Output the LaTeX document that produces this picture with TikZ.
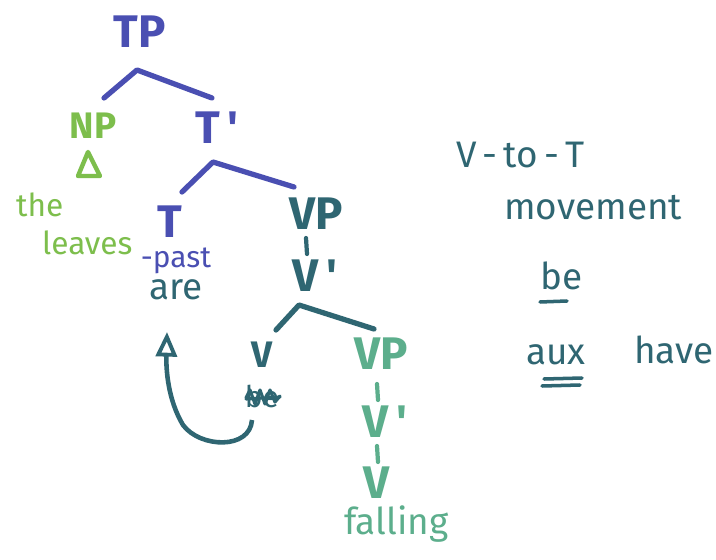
\documentclass[tikz,border=0pt]{standalone}
\usepackage{fontspec}
\setmainfont{Fira Sans}
\usetikzlibrary{arrows.meta}
\definecolor{cblue}{HTML}{4A4FB2}
\definecolor{cgreen}{HTML}{7DBE4C}
\definecolor{cteal}{HTML}{2F6672}
\definecolor{clteal}{HTML}{5CAE8C}
\tikzset{
  big/.style={font=\fontsize{26}{28}\selectfont\bfseries},
  mid/.style={font=\fontsize{21}{23}\selectfont},
  lab/.style={font=\fontsize{21}{23}\selectfont\bfseries},
  hand/.style={font=\fontsize{18}{20}\selectfont},
  sml/.style={font=\fontsize{17}{19}\selectfont},
  branch/.style={line width=3pt, line cap=round, line join=round},
  tick/.style={line width=2.4pt, line cap=round},
  uline/.style={line width=2pt, line cap=round},
}
\begin{document}
\begin{tikzpicture}[x=0.02cm,y=-0.02cm]
\useasboundingbox[fill=white] (0,0) rectangle (716,560);
% top level
\node[big, text=cblue] (TP) at (140,32) {TP};
\coordinate (a1) at (137,70);
\coordinate (a1l) at (104,98);
\coordinate (a1r) at (212,98);
\draw[branch, cblue] (a1l) -- (a1) -- (a1r);
\node[lab, text=cgreen] (NP) at (93,126) {NP};
\draw[cgreen, line width=2.5pt, line join=round] (78,176) -- (100,176) -- (88,152) -- cycle;
\node[hand, text=cgreen, anchor=west] (the) at (10,205) {the};
\node[hand, text=cgreen, anchor=west] (leaves) at (36,243) {leaves};
\node[big, text=cblue] (Tbar) at (217,128) {T\,\textquotesingle};
\coordinate (a2) at (213,162);
\coordinate (a2l) at (182,192);
\coordinate (a2r) at (294,187);
\draw[branch, cblue] (a2l) -- (a2) -- (a2r);
\node[big, text=cblue] (T) at (170,222) {T};
\node[sml, text=cblue] (past) at (176,261) {-past};
\node[mid, text=cteal] (are) at (176,290) {are};
\node[big, text=cteal] (VP) at (316,214) {VP};
\draw[tick, cteal] (306,238) -- (307,254);
\node[big, text=cteal] (Vbar) at (315,276) {V\,\textquotesingle};
\coordinate (a3) at (299,305);
\coordinate (a3l) at (276,330);
\coordinate (a3r) at (374,329);
\draw[branch, cteal] (a3l) -- (a3) -- (a3r);
\node[lab, text=cteal] (V) at (262,355) {V};
\node[sml, text=cteal] (be) at (262,396) {be};
\draw[cteal, line width=1.8pt, line cap=round, line join=round]
  (246,398) -- (250,390) -- (255,404) -- (260,390) -- (265,404) -- (270,390) -- (275,402) -- (280,396);
\draw[cteal, line width=1.8pt, line cap=round] (246,399) -- (280,397);
\draw[cteal, line width=2.6pt, -{Triangle[open, length=14pt, width=12pt, line width=2.2pt]}]
  (252,420) .. controls (250,450) and (200,448) .. (183,425)
  .. controls (168,400) and (166,370) .. (167,332);
% lower VP
\node[big, text=clteal] (VP2) at (381,354) {VP};
\draw[tick, clteal] (377,384) -- (378,400);
\node[big, text=clteal] (Vbar2) at (385,422) {V\,\textquotesingle};
\draw[tick, clteal] (377,446) -- (378,462);
\node[big, text=clteal] (V2) at (377,483) {V};
\node[mid, text=clteal, anchor=west] (falling) at (338,524) {falling};
% right-hand notes
\node[mid, text=cteal, anchor=west] (vtot) at (450,155) {V\,-\,to\,-\,T};
\node[mid, text=cteal, anchor=west] (movement) at (498,208) {movement};
\node[mid, text=cteal, anchor=west] (be2) at (534,276) {be};
\draw[cteal, uline] (540,302) -- (567,301);
\node[mid, text=cteal, anchor=west] (aux) at (520,355) {aux};
\node[mid, text=cteal, anchor=west] (have) at (628,350) {have};
\draw[cteal, uline] (544,379) -- (582,378);
\draw[cteal, uline] (542,386) -- (580,385);
\end{tikzpicture}
\end{document}
